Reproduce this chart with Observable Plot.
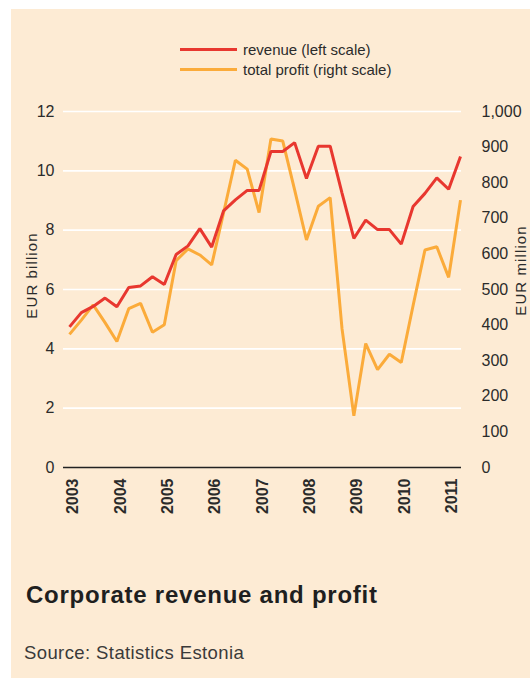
<!DOCTYPE html>
<html>
<head>
<meta charset="utf-8">
<script src="https://cdn.jsdelivr.net/npm/d3@7"></script>
<script src="https://cdn.jsdelivr.net/npm/@observablehq/plot@0.6"></script>
<style>
  html, body { margin: 0; padding: 0; background: #ffffff; }
  body { width: 530px; height: 678px; position: relative; overflow: hidden; font-family: "Liberation Sans", Arial, Helvetica, sans-serif; }
  #panel { position: absolute; left: 11px; top: 9px; width: 519px; height: 669px; background: #fdebd4; }
  #chart { position: absolute; left: 0; top: 0; }
  .leg { position: absolute; left: 180px; height: 20px; display: flex; align-items: center; font-size: 15px; color: #2b2b2b; }
  .leg .sw { width: 57px; height: 3px; margin-right: 6px; }
  #title { position: absolute; left: 26px; top: 581px; font-size: 24px; font-weight: bold; letter-spacing: 0.75px; color: #1f1f1f; }
  #source { position: absolute; left: 24px; top: 642px; font-size: 18.5px; letter-spacing: 0.4px; color: #3a3a3a; }
  .ylab { position: absolute; font-size: 15px; letter-spacing: 1.1px; color: #2b2b2b; white-space: nowrap; transform-origin: center center; }
</style>
</head>
<body>
<div id="panel"></div>
<div class="leg" id="leg1" style="top:39px"><span class="sw" id="sw1"></span><span id="lt1"></span></div>
<div class="leg" id="leg2" style="top:59px"><span class="sw" id="sw2"></span><span id="lt2"></span></div>
<div id="chart"></div>
<div class="ylab" id="ylabL"></div>
<div class="ylab" id="ylabR"></div>
<div id="title"></div>
<div id="source"></div>
<script>
// ---- data ----
const quarters = [
  "2003 Q1","2003 Q2","2003 Q3","2003 Q4",
  "2004 Q1","2004 Q2","2004 Q3","2004 Q4",
  "2005 Q1","2005 Q2","2005 Q3","2005 Q4",
  "2006 Q1","2006 Q2","2006 Q3","2006 Q4",
  "2007 Q1","2007 Q2","2007 Q3","2007 Q4",
  "2008 Q1","2008 Q2","2008 Q3","2008 Q4",
  "2009 Q1","2009 Q2","2009 Q3","2009 Q4",
  "2010 Q1","2010 Q2","2010 Q3","2010 Q4",
  "2011 Q1","2011 Q2"
];
// revenue, EUR billion (left scale)
const revenue = [4.74,5.22,5.43,5.71,5.42,6.07,6.12,6.43,6.17,7.18,7.47,8.05,7.43,8.65,9.02,9.34,9.34,10.65,10.65,10.95,9.74,10.83,10.83,9.25,7.72,8.34,8.02,8.02,7.53,8.80,9.24,9.76,9.38,10.48];
// total profit, EUR million (right scale)
const profit = [374,414,457,407,354,446,461,380,401,581,614,597,569,715,863,838,716,923,917,780,639,734,758,390,145,348,275,318,295,455,611,620,534,751];
const yearTicks = [2003,2004,2005,2006,2007,2008,2009,2010,2011];
const leftTicks = [0,2,4,6,8,10,12];
const rightTicks = [0,100,200,300,400,500,600,700,800,900,1000];
const seriesNames = ["revenue (left scale)", "total profit (right scale)"];
const colors = ["#e8372f", "#fbab3a"];
const axisLabels = ["EUR billion", "EUR million"];
const titleText = "Corporate revenue and profit";
const sourceText = "Source: Statistics Estonia";

// ---- build ----
const leftMax = 12, rightMax = 1000;
const k = leftMax / rightMax;   // right-scale value -> left-scale units
const toTime = q => { const [y, qq] = q.split(" Q"); return +y + (+qq - 1) / 4; };
const rows = quarters.map((q, i) => ({t: toTime(q), revenue: revenue[i], profit: profit[i]}));

const chart = Plot.plot({
  width: 530,
  height: 530,
  marginLeft: 63,
  marginRight: 69,
  marginTop: 111,
  marginBottom: 63,
  insetLeft: 6,
  insetRight: 1,
  style: {background: "transparent", fontFamily: "'Liberation Sans', Arial, sans-serif", color: "#2b2b2b", overflow: "visible"},
  x: {domain: [2003, 2011.25]},
  y: {domain: [0, leftMax]},
  marks: [
    Plot.ruleY(leftTicks.filter(d => d > 0), {stroke: "#ffffff", strokeWidth: 1.6}),
    Plot.ruleY([0], {stroke: "#222222", strokeWidth: 1.5}),
    Plot.axisY(leftTicks, {anchor: "left", tickSize: 0, tickPadding: 9, fontSize: 16, label: null}),
    Plot.axisY(rightTicks.map(d => d * k), {anchor: "right", tickSize: 0, tickPadding: 20, fontSize: 16, label: null,
      tickFormat: d => d3.format(",")(Math.round(d / k))}),
    Plot.axisX(yearTicks, {anchor: "bottom", tickSize: 0, tickPadding: 11, tickRotate: -90, fontSize: 16, fontWeight: "bold", label: null,
      dx: 3.5, tickFormat: d => String(d)}),
    Plot.line(rows, {x: "t", y: d => d.profit * k, stroke: colors[1], strokeWidth: 3, strokeLinejoin: "miter", strokeLinecap: "butt"}),
    Plot.line(rows, {x: "t", y: "revenue", stroke: colors[0], strokeWidth: 3, strokeLinejoin: "miter", strokeLinecap: "butt"})
  ]
});
document.getElementById("chart").appendChild(chart);

document.getElementById("sw1").style.background = colors[0];
document.getElementById("sw2").style.background = colors[1];
document.getElementById("lt1").textContent = seriesNames[0];
document.getElementById("lt2").textContent = seriesNames[1];
document.getElementById("title").textContent = titleText;
document.getElementById("source").textContent = sourceText;

function placeLabel(id, text, cx, cy) {
  const el = document.getElementById(id);
  el.textContent = text;
  const w = el.offsetWidth, h = el.offsetHeight;
  el.style.left = (cx - w / 2) + "px";
  el.style.top = (cy - h / 2) + "px";
  el.style.transform = "rotate(-90deg)";
}
placeLabel("ylabL", axisLabels[0], 31, 275);
placeLabel("ylabR", axisLabels[1], 520, 270);
</script>
</body>
</html>
